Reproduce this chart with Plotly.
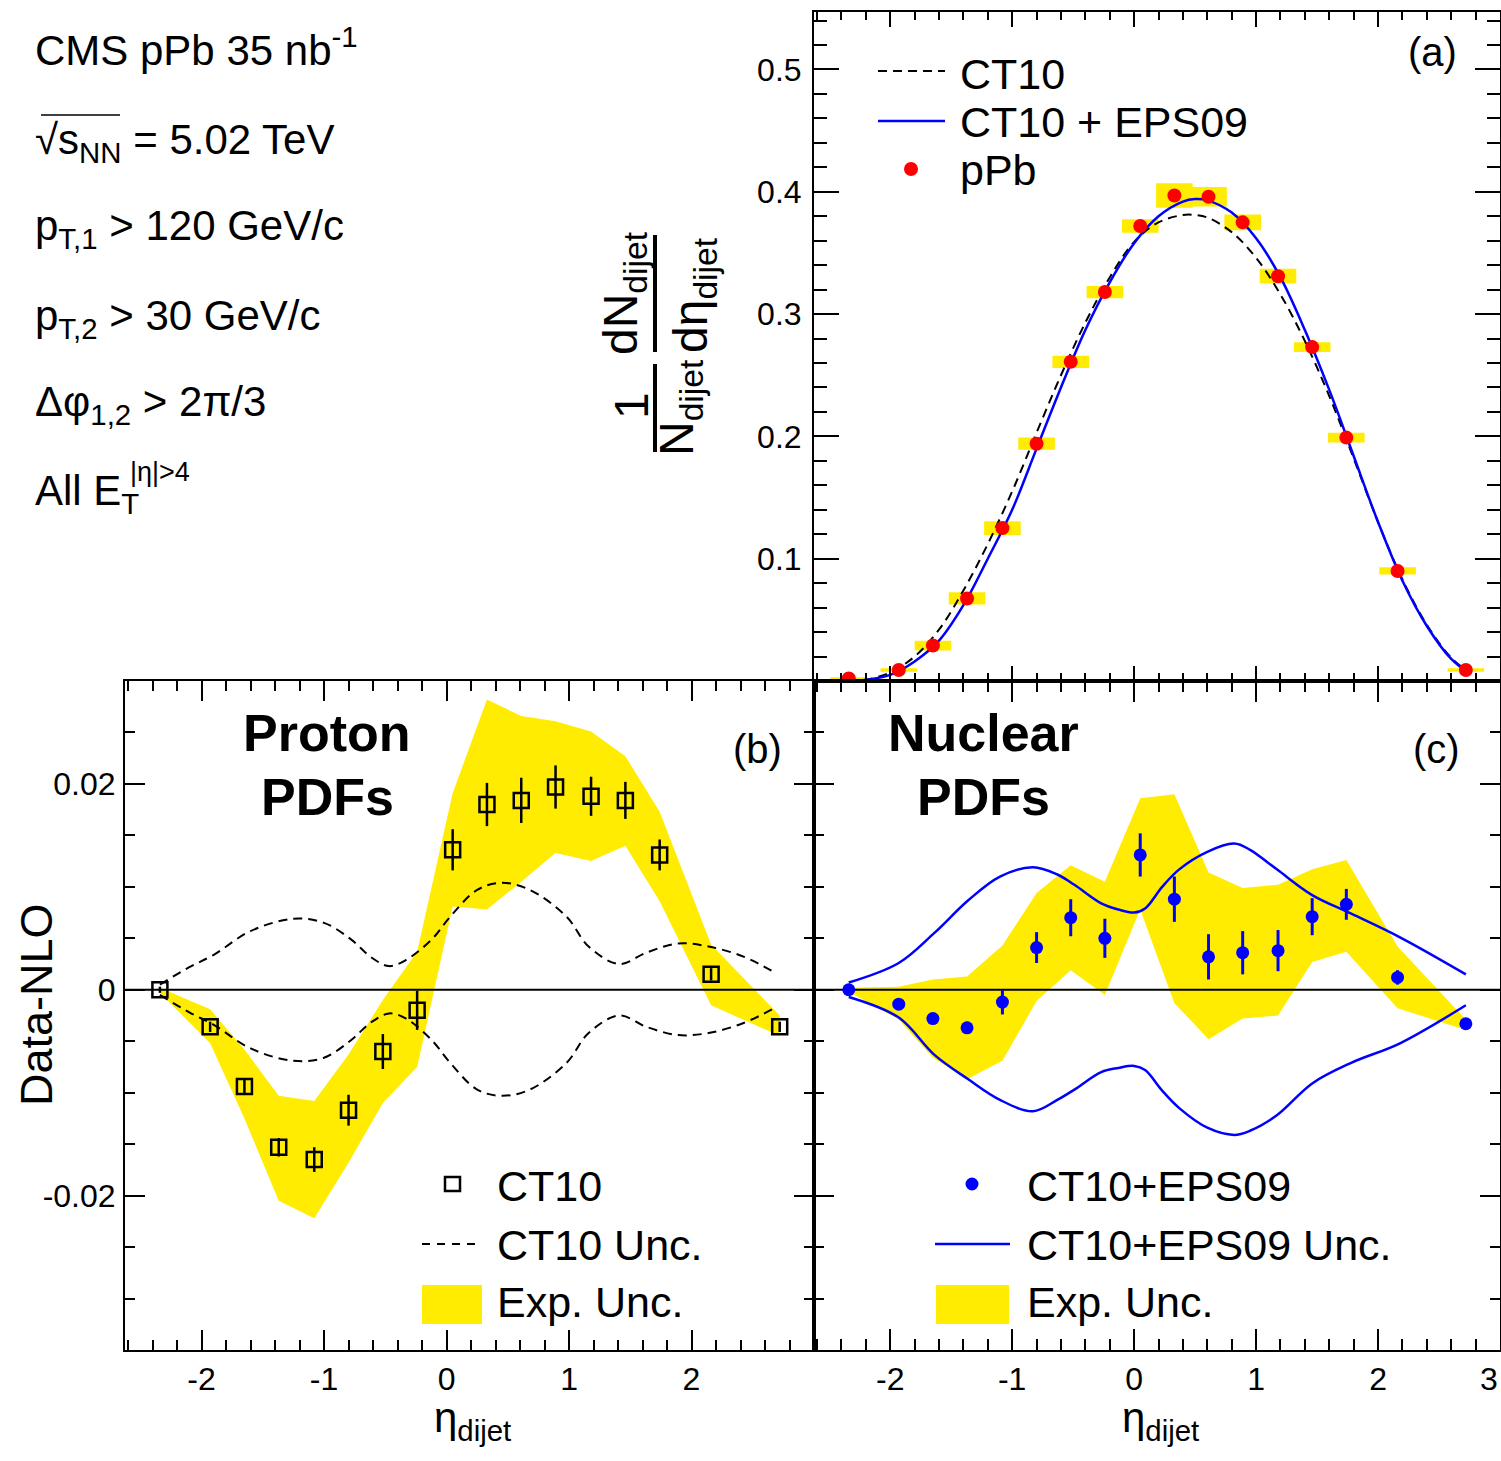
import plotly.graph_objects as go

W, H = 1501, 1461
FONT = "Liberation Sans"
YELLOW = "#FFEC00"

# ---------------- data ----------------
eta = [-2.34, -1.93, -1.65, -1.37, -1.08, -0.80, -0.52, -0.24, 0.05, 0.33,
       0.61, 0.89, 1.18, 1.46, 1.74, 2.16, 2.72]

# (a) normalized distribution, pPb data + systematic box half-heights
ppb_val = [0.002, 0.009, 0.029, 0.0675, 0.125, 0.194, 0.261, 0.318, 0.372, 0.397,
           0.396, 0.375, 0.331, 0.273, 0.199, 0.090, 0.009]
ppb_sys = [0.001, 0.0015, 0.004, 0.005, 0.0056, 0.005, 0.005, 0.005, 0.0055, 0.010,
           0.008, 0.0065, 0.006, 0.004, 0.004, 0.003, 0.0015]

curve_eta = [-2.34, -2.2, -2.0, -1.8, -1.6, -1.4, -1.2, -1.0, -0.8, -0.6, -0.4, -0.2,
             0.0, 0.2, 0.4, 0.5, 0.6, 0.8, 1.0, 1.2, 1.4, 1.6, 1.8, 2.0, 2.2, 2.4, 2.6, 2.75]
ct10_curve = [0.000, 0.001, 0.007, 0.020, 0.042, 0.074, 0.112, 0.155, 0.203, 0.250, 0.293, 0.330,
              0.359, 0.375, 0.381, 0.381, 0.379, 0.367, 0.346, 0.316, 0.278, 0.233, 0.182, 0.130,
              0.083, 0.046, 0.019, 0.007]
eps09_curve = [0.000, 0.001, 0.005, 0.016, 0.033, 0.062, 0.100, 0.140, 0.190, 0.240, 0.287, 0.326,
               0.358, 0.380, 0.392, 0.394, 0.393, 0.383, 0.362, 0.330, 0.287, 0.238, 0.184, 0.130,
               0.082, 0.045, 0.018, 0.006]

# (b) Data - NLO(CT10)
ct10_diff = [0.0, -0.0036, -0.0094, -0.0153, -0.0165, -0.0117, -0.0060, -0.0020, 0.0136, 0.0180,
             0.0184, 0.0197, 0.0188, 0.0184, 0.0131, 0.0015, -0.0036]
ct10_err = [0.0003, 0.0005, 0.0007, 0.0009, 0.0012, 0.0015, 0.0017, 0.0019, 0.0020, 0.0021,
            0.0022, 0.0021, 0.0019, 0.0018, 0.0015, 0.0006, 0.0005]
exp_lo_b = [-0.0003, -0.0052, -0.0125, -0.0205, -0.0222, -0.0168, -0.0110, -0.0075, 0.0081, 0.0078,
            0.0105, 0.0133, 0.0125, 0.0140, 0.0086, -0.0015, -0.0045]
exp_hi_b = [0.0002, -0.0019, -0.0058, -0.0103, -0.0108, -0.0063, -0.0010, 0.0037, 0.0191, 0.0282,
            0.0266, 0.0261, 0.0251, 0.0227, 0.0173, 0.0044, -0.0025]

ct10_unc_eta = [-2.34, -2.1, -1.9, -1.6, -1.25, -1.0, -0.78, -0.62, -0.47, -0.33, -0.12, 0.03,
                0.25, 0.45, 0.68, 0.98, 1.16, 1.41, 1.63, 1.89, 2.14, 2.43, 2.69]
ct10_unc_hi = [0.0005, 0.0022, 0.0034, 0.0057, 0.0069, 0.0065, 0.0049, 0.0032, 0.0023, 0.0029,
               0.0049, 0.0071, 0.0097, 0.0104, 0.0097, 0.0071, 0.0042, 0.0025, 0.0036, 0.0045,
               0.0042, 0.0032, 0.0016]
ct10_unc_lo = [-0.0005, -0.0022, -0.0034, -0.0057, -0.0069, -0.0066, -0.0049, -0.0032, -0.0023,
               -0.0028, -0.0049, -0.0071, -0.0097, -0.0103, -0.0097, -0.0071, -0.0042, -0.0025,
               -0.0036, -0.0044, -0.0042, -0.0032, -0.0017]

# (c) Data - NLO(CT10+EPS09)
eps_diff = [0.0, -0.0014, -0.0028, -0.0037, -0.0012, 0.0041, 0.0070, 0.0050, 0.0131, 0.0088,
            0.0032, 0.0036, 0.0038, 0.0071, 0.0083, 0.0012, -0.0033]
eps_err = [0.0002, 0.0003, 0.0004, 0.0006, 0.0012, 0.0015, 0.0018, 0.0019, 0.0021, 0.0022,
           0.0022, 0.0021, 0.0020, 0.0018, 0.0015, 0.0007, 0.0003]
exp_lo_c = [-0.0002, -0.0029, -0.0066, -0.0087, -0.0069, -0.0011, 0.0019, -0.0005, 0.0078, -0.0013,
            -0.0048, -0.0028, -0.0025, 0.0027, 0.0037, -0.0018, -0.0039]
exp_hi_c = [0.0002, 0.0003, 0.0010, 0.0013, 0.0043, 0.0094, 0.0121, 0.0105, 0.0186, 0.0190,
            0.0114, 0.0099, 0.0102, 0.0117, 0.0126, 0.0042, -0.0029]

eps_unc_eta = [-2.34, -1.93, -1.64, -1.36, -1.10, -0.83, -0.63, -0.49, -0.27, -0.13, 0.0, 0.09,
               0.23, 0.37, 0.60, 0.82, 0.95, 1.17, 1.46, 1.78, 2.18, 2.72]
eps_unc_hi = [0.0007, 0.0026, 0.0055, 0.0087, 0.0110, 0.0119, 0.0112, 0.0102, 0.0084, 0.0078,
              0.0075, 0.0079, 0.0100, 0.0117, 0.0134, 0.0142, 0.0136, 0.0117, 0.0092, 0.0074,
              0.0051, 0.0015]
eps_unc_lo = [-0.0007, -0.0027, -0.0063, -0.0087, -0.0107, -0.0118, -0.0107, -0.0097, -0.0080,
              -0.0076, -0.0074, -0.0078, -0.0098, -0.0115, -0.0134, -0.0141, -0.0137, -0.0122,
              -0.0091, -0.0071, -0.0052, -0.0015]

XRANGE = [-2.625, 3.0]


def px(x):
    return x / W


def py(y):
    return 1 - y / H


fig = go.Figure()

# ---------------- panel (a) ----------------
fig.add_trace(go.Bar(
    x=eta, y=[2 * s for s in ppb_sys], base=[v - s for v, s in zip(ppb_val, ppb_sys)],
    width=0.3, marker=dict(color=YELLOW, line=dict(width=0)), xaxis="x", yaxis="y"))
fig.add_trace(go.Scatter(
    x=curve_eta, y=ct10_curve, mode="lines",
    line=dict(color="black", width=2, dash="9px,6px", shape="spline"), xaxis="x", yaxis="y"))
fig.add_trace(go.Scatter(
    x=curve_eta, y=eps09_curve, mode="lines",
    line=dict(color="#0000FF", width=2.5, shape="spline"), xaxis="x", yaxis="y"))
fig.add_trace(go.Scatter(
    x=eta, y=ppb_val, mode="markers", marker=dict(color="#FF0000", size=14),
    xaxis="x", yaxis="y"))

# ---------------- panel (b) ----------------
fig.add_trace(go.Scatter(
    x=eta + eta[::-1], y=exp_hi_b + exp_lo_b[::-1], fill="toself", fillcolor=YELLOW,
    mode="lines", line=dict(width=0, color=YELLOW), xaxis="x2", yaxis="y2"))
for arr in (ct10_unc_hi, ct10_unc_lo):
    fig.add_trace(go.Scatter(
        x=ct10_unc_eta, y=arr, mode="lines",
        line=dict(color="black", width=2, dash="9px,6px", shape="spline"),
        xaxis="x2", yaxis="y2"))
fig.add_trace(go.Scatter(x=XRANGE, y=[0, 0], mode="lines", line=dict(color="black", width=2),
                         xaxis="x2", yaxis="y2"))
fig.add_trace(go.Scatter(
    x=eta, y=ct10_diff, mode="markers",
    marker=dict(symbol="square-open", size=15, color="black", line=dict(width=2.5)),
    error_y=dict(type="data", array=ct10_err, color="black", thickness=2.5, width=0),
    xaxis="x2", yaxis="y2"))

# ---------------- panel (c) ----------------
fig.add_trace(go.Scatter(
    x=eta + eta[::-1], y=exp_hi_c + exp_lo_c[::-1], fill="toself", fillcolor=YELLOW,
    mode="lines", line=dict(width=0, color=YELLOW), xaxis="x3", yaxis="y3"))
fig.add_trace(go.Scatter(x=XRANGE, y=[0, 0], mode="lines", line=dict(color="black", width=2),
                         xaxis="x3", yaxis="y3"))
for arr in (eps_unc_hi, eps_unc_lo):
    fig.add_trace(go.Scatter(
        x=eps_unc_eta, y=arr, mode="lines",
        line=dict(color="#0000FF", width=2.5, shape="spline"), xaxis="x3", yaxis="y3"))
fig.add_trace(go.Scatter(
    x=eta, y=eps_diff, mode="markers", marker=dict(color="#0000FF", size=13),
    error_y=dict(type="data", array=eps_err, color="#0000FF", thickness=3, width=0),
    xaxis="x3", yaxis="y3"))


# ---------------- axes ----------------
def ax(**kw):
    d = dict(showline=True, linecolor="black", linewidth=2, mirror="allticks",
             ticks="inside", tickcolor="black", tickwidth=2, showgrid=False, zeroline=False,
             tickfont=dict(family=FONT, size=32, color="black"), tickmode="array")
    d.update(kw)
    return d


def minor(dt, ln):
    return dict(ticks="inside", ticklen=ln, tickcolor="black", tickwidth=2, dtick=dt, tick0=0,
                tickmode="linear", showgrid=False)


xt = [-2, -1, 0, 1, 2, 3]
xtt = ["-2", "-1", "0", "1", "2", "3"]

fig.update_layout(
    xaxis=ax(domain=[px(814), px(1500)], anchor="y", range=XRANGE, tickvals=xt,
             showticklabels=False, ticklen=15, minor=minor(0.2, 8)),
    yaxis=ax(domain=[py(681), py(12)], anchor="x", range=[0, 0.547],
             tickvals=[0.1, 0.2, 0.3, 0.4, 0.5], ticktext=["0.1", "0.2", "0.3", "0.4", "0.5"],
             ticklen=25, minor=minor(0.02, 13), ticklabelstandoff=4),
    xaxis2=ax(domain=[px(125), px(814)], anchor="y2", range=XRANGE, tickvals=xt[:5],
              ticktext=xtt[:5], ticklen=20, minor=minor(0.2, 10), ticklabelstandoff=0),
    yaxis2=ax(domain=[py(1350), py(681)], anchor="x2", range=[-0.035, 0.03],
              tickvals=[-0.02, 0, 0.02], ticktext=["-0.02", "0", "0.02"], ticklen=20,
              minor=minor(0.005, 10), ticklabelstandoff=1),
    xaxis3=ax(domain=[px(814), px(1500)], anchor="y3", range=XRANGE, tickvals=xt,
              ticktext=xtt, ticklen=21, minor=minor(0.2, 11), ticklabelstandoff=0),
    yaxis3=ax(domain=[py(1350), py(681)], anchor="x3", range=[-0.035, 0.03],
              tickvals=[-0.02, 0, 0.02], showticklabels=False, ticklen=20,
              minor=minor(0.005, 10)),
)

# ---------------- text ----------------
ann = []


def text(x, y, s, size=40, xanchor="left", yanchor="middle", angle=0, bold=False):
    ann.append(dict(x=px(x), y=py(y), xref="paper", yref="paper", text=s, showarrow=False,
                    xanchor=xanchor, yanchor=yanchor, textangle=angle,
                    font=dict(family=FONT, size=size, color="black",
                              weight="bold" if bold else "normal")))


# info block
text(33, 47, "CMS pPb 35 nb<sup>-1</sup>", 42)
text(33, 142, "√s<sub>NN</sub> = 5.02 TeV", 42)
text(33, 229, "p<sub>T,1</sub> > 120 GeV/c", 42)
text(33, 318, "p<sub>T,2</sub> > 30 GeV/c", 42)
text(33, 405, "Δφ<sub>1,2</sub> > 2π/3", 42)
text(33, 493, "All E<sub>T</sub>", 42)
text(128, 472, "|η|>4", 27)

# edge tick label of panel (c) (kept inside the page)
text(1500, 1379, "3", 32, xanchor="right")

# panel labels
text(1432, 52, "(a)", 40, xanchor="center")
text(757, 749, "(b)", 40, xanchor="center")
text(1436, 749, "(c)", 40, xanchor="center")
text(327, 733, "Proton", 52, xanchor="center", bold=True)
text(327, 797, "PDFs", 52, xanchor="center", bold=True)
text(983, 733, "Nuclear", 52, xanchor="center", bold=True)
text(983, 797, "PDFs", 52, xanchor="center", bold=True)

# legend (a)
text(958, 74, "CT10", 43)
text(958, 122, "CT10 + EPS09", 43)
text(958, 170, "pPb", 43)
# legend (b)
text(495, 1186, "CT10", 43)
text(495, 1245, "CT10 Unc.", 43)
text(495, 1302, "Exp. Unc.", 43)
# legend (c)
text(1025, 1186, "CT10+EPS09", 43)
text(1025, 1245, "CT10+EPS09 Unc.", 43)
text(1025, 1302, "Exp. Unc.", 43)

# axis titles
text(36, 1005, "Data-NLO", 45, xanchor="center", angle=-90)
text(472, 1420, "η<sub>dijet</sub>", 42, xanchor="center")
text(1160, 1420, "η<sub>dijet</sub>", 42, xanchor="center")
text(632, 406, "1", 48, xanchor="center", angle=-90)
text(680, 408, "N<sub>dijet</sub>", 48, xanchor="center", angle=-90)
text(624, 293, "dN<sub>dijet</sub>", 48, xanchor="center", angle=-90)
text(694, 295, "dη<sub>dijet</sub>", 48, xanchor="center", angle=-90)

shapes = []


def line(x0, y0, x1, y1, color="black", width=2, dash=None):
    d = dict(type="line", xref="paper", yref="paper", x0=px(x0), y0=py(y0), x1=px(x1), y1=py(y1),
             line=dict(color=color, width=width))
    if dash:
        d["line"]["dash"] = dash
    shapes.append(d)


def rect(x0, y0, x1, y1, fill, lcolor=None, lwidth=0):
    shapes.append(dict(type="rect", xref="paper", yref="paper", x0=px(x0), y0=py(y0),
                       x1=px(x1), y1=py(y1), fillcolor=fill,
                       line=dict(color=lcolor or fill, width=lwidth)))


def circle(cx, cy, r, fill):
    shapes.append(dict(type="circle", xref="paper", yref="paper", x0=px(cx - r), y0=py(cy + r),
                       x1=px(cx + r), y1=py(cy - r), fillcolor=fill, line=dict(color=fill, width=0)))


# sqrt overbar
line(41, 115, 120, 115, width=1.5)
# fraction bars
line(655, 364, 655, 452, width=4)
line(655, 235, 655, 352, width=4)
# legend (a) symbols
line(878, 71, 945, 71, dash="9px,6px")
line(878, 121, 945, 121, color="#0000FF", width=2.5)
circle(911, 169, 7, "#FF0000")
# legend (b) symbols
rect(445, 1177, 460, 1191, "rgba(0,0,0,0)", "black", 2.5)
line(422, 1244, 478, 1244, dash="8px,7px")
rect(422, 1285, 482, 1324, YELLOW)
# legend (c) symbols
circle(972, 1184, 6.5, "#0000FF")
line(935, 1244, 1010, 1244, color="#0000FF", width=2.5)
rect(936, 1285, 1009, 1324, YELLOW)

fig.update_layout(
    width=W, height=H, margin=dict(l=0, r=0, t=0, b=0),
    paper_bgcolor="white", plot_bgcolor="rgba(0,0,0,0)",
    showlegend=False, barmode="overlay",
    annotations=ann, shapes=shapes,
)

fig.write_html(
    "out.html", config={"displayModeBar": False},
    post_script=("document.documentElement.style.overflow='hidden';"
                 "document.body.style.overflow='hidden';"
                 "document.body.style.margin='0px';document.body.style.padding='0px';"))
